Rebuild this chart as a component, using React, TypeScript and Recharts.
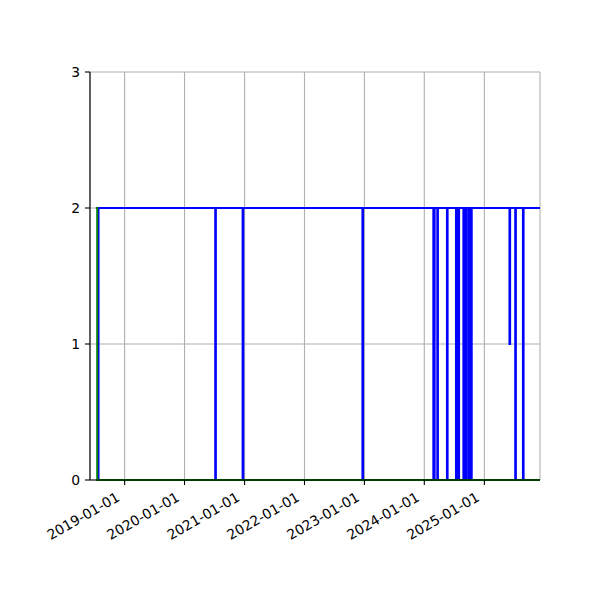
import { LineChart, Line, XAxis, YAxis, CartesianGrid } from 'recharts';

// x range of the axes
const xStart = '2018-06-04';
const xEnd = '2025-12-06';

const tickLabels = ['2019-01-01', '2020-01-01', '2021-01-01', '2022-01-01', '2023-01-01', '2024-01-01', '2025-01-01'];
const yTicks = [0, 1, 2, 3];

// blue series: change points (step after)
const blueDates = [
  '2018-07-20', '2018-07-26',
  '2020-07-06', '2020-07-10',
  '2020-12-20', '2020-12-24',
  '2022-12-20', '2022-12-24',
  '2024-02-25', '2024-02-29', '2024-03-01', '2024-03-04',
  '2024-03-20', '2024-03-24',
  '2024-05-18', '2024-05-22',
  '2024-07-12', '2024-07-16', '2024-07-19', '2024-07-23', '2024-07-26', '2024-07-31',
  '2024-08-26', '2024-08-30', '2024-09-02', '2024-09-06', '2024-09-09', '2024-09-14',
  '2024-09-27', '2024-10-01', '2024-10-04', '2024-10-08', '2024-10-11', '2024-10-16',
  '2025-06-03', '2025-06-07',
  '2025-07-08', '2025-07-12',
  '2025-08-24', '2025-08-28',
  '2025-12-06',
];
const blueValues = [
  0, 2,
  0, 2,
  0, 2,
  0, 2,
  0, 2, 0, 2,
  0, 2,
  0, 2,
  0, 2, 0, 2, 0, 2,
  0, 2, 0, 2, 0, 2,
  0, 2, 0, 2, 0, 2,
  1, 2,
  0, 2,
  0, 2,
  2,
];

// green series
const greenDates = ['2018-07-10', '2018-07-18', '2025-12-06'];
const greenValues = [2, 0, 0];

const toTime = (s: string) => Date.parse(s + 'T00:00:00Z');
const fmt = (t: number) => new Date(t).toISOString().slice(0, 10);

const blueData = blueDates.map((d, i) => ({ t: toTime(d), v: blueValues[i] }));
const greenData = greenDates.map((d, i) => ({ t: toTime(d), v: greenValues[i] }));
const xTicks = tickLabels.map(toTime);
const domain = [toTime(xStart), toTime(xEnd)];

const FONT = 'DejaVu Sans';

const XTick = (props: any) => {
  const { x, y, payload } = props;
  return (
    <g transform={`translate(${x - 4},${y + 10})`}>
      <text textAnchor="end" transform="rotate(-30)" fontSize={13.9} fontFamily={FONT} fill="#000">
        {fmt(payload.value)}
      </text>
    </g>
  );
};

export default function App() {
  return (
    <div style={{ position: 'absolute', left: 0, top: 0, width: 600, height: 600, background: '#fff' }}>
      <LineChart width={600} height={600} margin={{ top: 72, right: 60, bottom: 0, left: 0 }}>
        <CartesianGrid stroke="#b0b0b0" strokeWidth={1.1} />
        <XAxis
          dataKey="t"
          type="number"
          domain={domain}
          ticks={xTicks}
          interval={0}
          allowDataOverflow
          height={120}
          tickSize={5}
          tickMargin={5}
          tick={<XTick />}
          axisLine={{ stroke: '#000', strokeWidth: 1.1 }}
          tickLine={{ stroke: '#000', strokeWidth: 1.1 }}
        />
        <XAxis
          xAxisId="top"
          orientation="top"
          dataKey="t"
          type="number"
          domain={domain}
          height={0}
          tick={false}
          tickLine={false}
          axisLine={{ stroke: '#000', strokeWidth: 1.1 }}
        />
        <YAxis
          type="number"
          domain={[0, 3]}
          ticks={yTicks}
          interval={0}
          width={90}
          tickSize={5}
          tickMargin={5}
          tick={{ fontSize: 13.9, fontFamily: FONT, fill: '#000' }}
          axisLine={{ stroke: '#000', strokeWidth: 1.1 }}
          tickLine={{ stroke: '#000', strokeWidth: 1.1 }}
        />
        <YAxis
          yAxisId="right"
          orientation="right"
          type="number"
          domain={[0, 3]}
          width={0}
          tick={false}
          tickLine={false}
          axisLine={{ stroke: '#000', strokeWidth: 1.1 }}
        />
        <Line
          data={blueData}
          dataKey="v"
          type="stepAfter"
          stroke="#0000ff"
          strokeWidth={2}
          dot={false}
          activeDot={false}
          isAnimationActive={false}
        />
        <Line
          data={greenData}
          dataKey="v"
          type="stepAfter"
          stroke="#008000"
          strokeWidth={2}
          dot={false}
          activeDot={false}
          isAnimationActive={false}
        />
      </LineChart>
    </div>
  );
}
